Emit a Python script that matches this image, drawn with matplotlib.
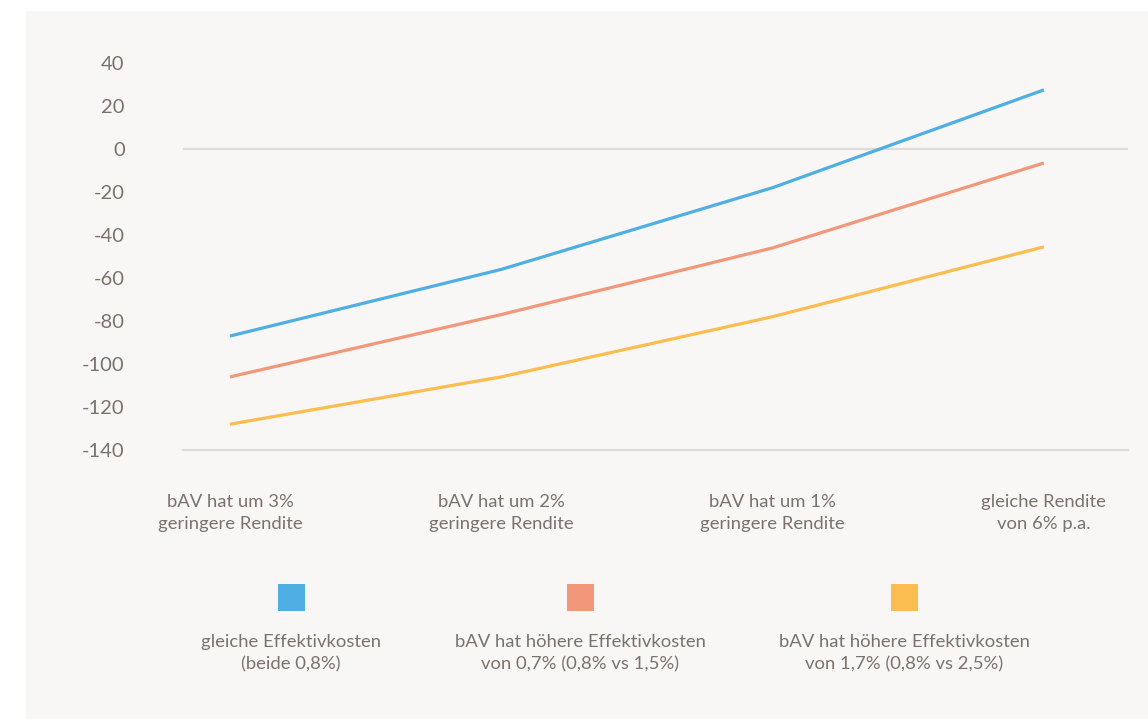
import matplotlib
matplotlib.use("Agg")
import matplotlib.pyplot as plt
from matplotlib.patches import Rectangle

# data
categories = [
    "bAV hat um 3%\ngeringere Rendite",
    "bAV hat um 2%\ngeringere Rendite",
    "bAV hat um 1%\ngeringere Rendite",
    "gleiche Rendite\nvon 6% p.a.",
]
gleiche_kosten = [-87, -56, -18, 27.5]
kosten_plus_07 = [-106, -77, -46, -6.5]
kosten_plus_17 = [-128, -106, -78, -45.5]
y_ticks = [40, 20, 0, -20, -40, -60, -80, -100, -120, -140]

series_labels = [
    "gleiche Effektivkosten\n(beide 0,8%)",
    "bAV hat höhere Effektivkosten\nvon 0,7% (0,8% vs 1,5%)",
    "bAV hat höhere Effektivkosten\nvon 1,7% (0,8% vs 2,5%)",
]
colors = ["#4fafe3", "#f2977a", "#fbbd4f"]

TEXT = "#7b726d"
GRID = "#dddcdb"
PANEL = "#f8f7f6"
W, H = 1148, 719

plt.rcParams["font.family"] = ["Lato", "DejaVu Sans"]

fig = plt.figure(figsize=(W / 100, H / 100), dpi=100, facecolor="white")
fig.patches.append(Rectangle((26 / W, 0), 1 - 26 / W, (H - 11) / H,
                             transform=fig.transFigure, facecolor=PANEL,
                             edgecolor="none", zorder=-5))

ax = fig.add_axes([183 / W, 1 - 450 / H, (1128 - 183) / W, (450 - 63) / H])
ax.set_zorder(2)
ax.set_facecolor("none")
for s in ax.spines.values():
    s.set_visible(False)

x = list(range(len(categories)))
for vals, c in zip([gleiche_kosten, kosten_plus_07, kosten_plus_17], colors):
    ax.plot(x, vals, color=c, lw=2.3, solid_capstyle="butt", zorder=3)

ax.axhline(0, color=GRID, lw=1.6, zorder=1)
ax.axhline(-140, color=GRID, lw=1.6, zorder=1, clip_on=False)

ax.set_ylim(-140, 40)
ax.set_xlim(-0.173, 3.31)
ax.set_yticks(y_ticks)
ax.set_yticklabels([str(v) for v in y_ticks])
ax.tick_params(axis="y", length=0, pad=42, labelsize=14.5, labelcolor=TEXT)
ax.set_xticks(x)
ax.set_xticklabels(categories, linespacing=1.45)
ax.tick_params(axis="x", length=0, pad=32, labelsize=13.3, labelcolor=TEXT)

# legend: colour square above a two-line centred caption
legend_centers = [291, 580.5, 904.5]
sq = 27
for cx, c, lab in zip(legend_centers, colors, series_labels):
    fig.patches.append(Rectangle(((cx - sq / 2) / W, 1 - 611 / H), sq / W, sq / H,
                                 transform=fig.transFigure, facecolor=c,
                                 edgecolor="none"))
    fig.text(cx / W, 1 - 634 / H, lab, ha="center", va="top", fontsize=13.3,
             color=TEXT, linespacing=1.45)

fig.savefig("out.png", dpi=100, facecolor=fig.get_facecolor())
